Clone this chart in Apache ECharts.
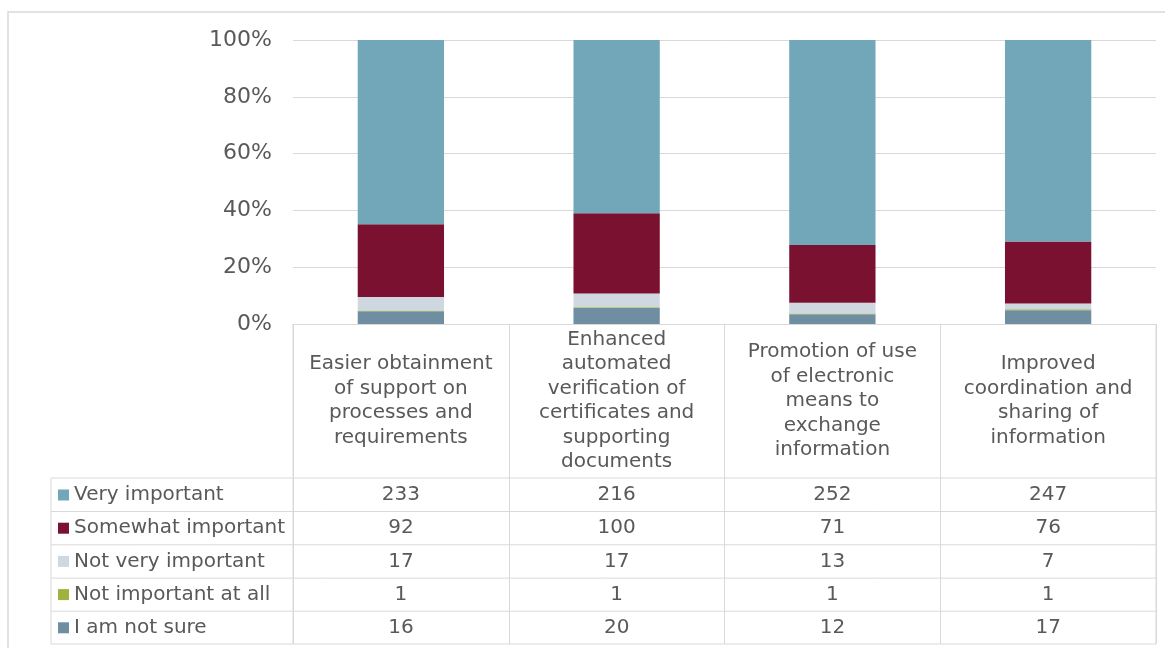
<!DOCTYPE html>
<html>
<head>
<meta charset="utf-8">
<script src="https://cdn.jsdelivr.net/npm/echarts@6/dist/echarts.min.js"></script>
<style>
html,body{margin:0;padding:0;background:#fff;}
#chart{width:1165px;height:648px;}
</style>
</head>
<body>
<div id="chart"></div>
<script>
const categories = [
  'Easier obtainment\nof support on\nprocesses and\nrequirements',
  'Enhanced\nautomated\nverification of\ncertificates and\nsupporting\ndocuments',
  'Promotion of use\nof electronic\nmeans to\nexchange\ninformation',
  'Improved\ncoordination and\nsharing of\ninformation'
];
const seriesNames = ['Very important', 'Somewhat important', 'Not very important', 'Not important at all', 'I am not sure'];
const veryImportant = [233, 216, 252, 247];
const somewhatImportant = [92, 100, 71, 76];
const notVeryImportant = [17, 17, 13, 7];
const notImportantAtAll = [1, 1, 1, 1];
const notSure = [16, 20, 12, 17];
const yTicks = ['0%', '20%', '40%', '60%', '80%', '100%'];

const colors = {
  'Very important': '#72A7BA',
  'Somewhat important': '#7B1130',
  'Not very important': '#CFD8E0',
  'Not important at all': '#9DB43C',
  'I am not sure': '#6F8EA2'
};
const valuesByName = {
  'Very important': veryImportant,
  'Somewhat important': somewhatImportant,
  'Not very important': notVeryImportant,
  'Not important at all': notImportantAtAll,
  'I am not sure': notSure
};
const totals = categories.map((_, i) => seriesNames.reduce((s, n) => s + valuesByName[n][i], 0));

// stacking order: bottom first
const stackOrder = ['I am not sure', 'Not important at all', 'Not very important', 'Somewhat important', 'Very important'];

const FONT = 'DejaVu Sans';
const TXT = '#595959';
const LINE = '#D9D9D9';
const gridLeft = 293, gridRight = 1156, gridTop = 40, gridBottomY = 324;
const rowTops = [478, 511.5, 544.8, 578.1, 611.2, 644];

const chart = echarts.init(document.getElementById('chart'), null, {renderer: 'canvas'});

const option = {
  animation: false,
  backgroundColor: '#fff',
  grid: {left: gridLeft, right: 1165 - gridRight, top: gridTop, bottom: 648 - gridBottomY, containLabel: false},
  legend: {
    orient: 'vertical',
    left: 58,
    top: rowTops[0] + 7,
    padding: 0,
    data: seriesNames,
    icon: 'rect',
    itemWidth: 11,
    itemHeight: 11,
    itemGap: 13.2,
    selectedMode: false,
    textStyle: {fontFamily: FONT, fontSize: 20, color: TXT, lineHeight: 20}
  },
  xAxis: {
    type: 'category',
    data: categories,
    axisLine: {show: true, lineStyle: {color: LINE, width: 1}},
    axisTick: {show: true, length: rowTops[5] - gridBottomY, lineStyle: {color: LINE, width: 1}},
    axisLabel: {
      fontFamily: FONT, fontSize: 20, color: TXT, lineHeight: 24.5,
      verticalAlign: 'middle', margin: 401 - gridBottomY, align: 'center', interval: 0
    }
  },
  yAxis: {
    type: 'value',
    min: 0, max: 100, interval: 20,
    axisLine: {show: false},
    axisTick: {show: false},
    splitLine: {lineStyle: {color: LINE, width: 1}},
    axisLabel: {
      fontFamily: FONT, fontSize: 22, color: TXT, margin: 21, padding: [4, 0, 0, 0],
      formatter: (v) => yTicks[Math.round(v / 20)]
    }
  },
  series: stackOrder.map(name => ({
    name: name,
    type: 'bar',
    stack: 'total',
    barWidth: '40%',
    itemStyle: {color: colors[name]},
    data: valuesByName[name].map((v, i) => v / totals[i] * 100)
  }))
};
chart.setOption(option);

// Build the data table below the chart
const graphics = [];
// outer frame
graphics.push({type: 'rect', shape: {x: 8, y: 12, width: 1300, height: 800}, style: {fill: null, stroke: LINE, lineWidth: 1.5}, silent: true, z: -1});
// horizontal row lines
rowTops.forEach(y => {
  graphics.push({type: 'line', shape: {x1: 51, y1: y, x2: gridRight, y2: y}, style: {stroke: LINE, lineWidth: 1}, silent: true});
});
// legend column left border
graphics.push({type: 'line', shape: {x1: 51, y1: rowTops[0], x2: 51, y2: rowTops[5]}, style: {stroke: LINE, lineWidth: 1}, silent: true});
// right border of the table
graphics.push({type: 'line', shape: {x1: gridRight, y1: gridBottomY, x2: gridRight, y2: rowTops[5]}, style: {stroke: LINE, lineWidth: 1}, silent: true});
// legend column right border (at grid left)
graphics.push({type: 'line', shape: {x1: gridLeft, y1: gridBottomY, x2: gridLeft, y2: rowTops[5]}, style: {stroke: LINE, lineWidth: 1}, silent: true});

seriesNames.forEach((name, r) => {
  const cy = (rowTops[r] + rowTops[r + 1]) / 2;
  valuesByName[name].forEach((v, i) => {
    const cx = chart.convertToPixel({xAxisIndex: 0}, i);
    graphics.push({
      type: 'text', x: cx, y: cy, silent: true,
      style: {text: String(v), fontFamily: FONT, fontSize: 20, fill: TXT, align: 'center', verticalAlign: 'middle'}
    });
  });
});
chart.setOption({graphic: graphics});
</script>
</body>
</html>
